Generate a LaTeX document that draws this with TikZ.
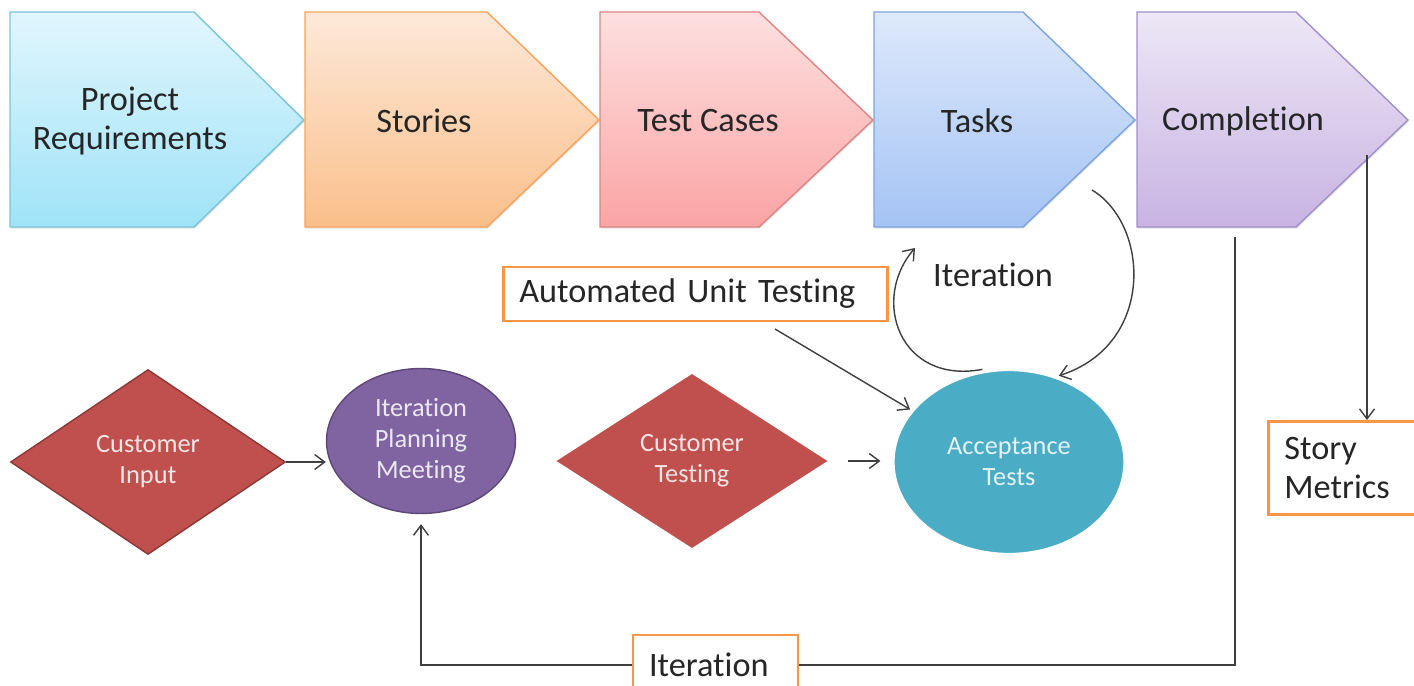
\documentclass[tikz,border=0pt]{standalone}
\usepackage{fontspec}
\setmainfont{Carlito}[Ligatures=NoCommon]
\usetikzlibrary{shapes.geometric, arrows.meta, shadows, backgrounds}
\definecolor{reqtop}{HTML}{E1F6FD}
\definecolor{reqbot}{HTML}{9FE3F8}
\definecolor{reqline}{HTML}{7AC4D8}
\definecolor{stotop}{HTML}{FDE9D9}
\definecolor{stobot}{HTML}{FABF8A}
\definecolor{stoline}{HTML}{F5A35C}
\definecolor{castop}{HTML}{FDE0E0}
\definecolor{casbot}{HTML}{FBA4A4}
\definecolor{casline}{HTML}{DC8585}
\definecolor{tsktop}{HTML}{DEE9FB}
\definecolor{tskbot}{HTML}{A4C3F4}
\definecolor{tskline}{HTML}{7CA4DC}
\definecolor{dontop}{HTML}{EDE7F6}
\definecolor{donbot}{HTML}{C8B3E3}
\definecolor{donline}{HTML}{A08FC8}
\definecolor{kitered}{HTML}{C0504D}
\definecolor{kiteline}{HTML}{8C3836}
\definecolor{meetpurple}{HTML}{8064A2}
\definecolor{meetline}{HTML}{5C4776}
\definecolor{accblue}{HTML}{4BACC6}
\definecolor{boxorange}{HTML}{F79646}
\definecolor{flowgray}{HTML}{3F3F3F}

\tikzset{
  stage/.style={line width=0.8pt, drop shadow={opacity=0.2, shadow xshift=0.6pt, shadow yshift=-0.9pt}},
  stagetext/.style={font=\fontsize{19.5}{22}\selectfont, align=center, text=black!85},
  labelbox/.style={draw=boxorange, line width=1.6pt, fill=white, font=\fontsize{19.5}{22}\selectfont,
    align=left, inner xsep=0.32cm, text=black!85},
  kite/.style={diamond, fill=kitered, minimum width=5.5cm, minimum height=3.7cm, aspect=1.5,
    inner sep=0pt, font=\fontsize{15}{17.6}\selectfont, align=center, text=white!85!kitered},
  flow/.style={draw=flowgray, line width=0.8pt, -{Straight Barb[length=0.2cm, width=0.3cm]}},
}

\begin{document}
\begin{tikzpicture}[x=0.02cm, y=-0.02cm]
	\useasboundingbox (0,0) rectangle (1414,686);

	\shade[stage, top color=reqtop, bottom color=reqbot, draw=reqline]
		(10,12) -- (194,12) -- (304,120) -- (194,227) -- (10,227) -- cycle;
	\node[stagetext] (req) at (130,121) {Project\\Requirements};

	\shade[stage, top color=stotop, bottom color=stobot, draw=stoline]
		(305,12) -- (487,12) -- (599,120) -- (487,227) -- (305,227) -- cycle;
	\node[stagetext] (stories) at (424,121) {Stories};

	\shade[stage, top color=castop, bottom color=casbot, draw=casline]
		(600,12) -- (759,12) -- (873,120) -- (759,227) -- (600,227) -- cycle;
	\node[stagetext] (cases) at (708,121) {Test Cases};

	\shade[stage, top color=tsktop, bottom color=tskbot, draw=tskline]
		(874,12) -- (1023,12) -- (1135,120) -- (1023,227) -- (874,227) -- cycle;
	\node[stagetext] (tasks) at (977,121) {Tasks};

	\shade[stage, top color=dontop, bottom color=donbot, draw=donline]
		(1137,12) -- (1296,12) -- (1408,120) -- (1296,227) -- (1137,227) -- cycle;
	\node[stagetext] (done) at (1243,121) {Completion};

	\node[kite, draw=kiteline, line width=0.8pt] (cin) at (148,462) {Customer\\Input};
	\node[ellipse, fill=meetpurple, draw=meetline, line width=0.8pt, minimum width=3.78cm,
		minimum height=2.9cm, inner sep=0pt, font=\fontsize{15}{17.6}\selectfont, align=center,
		text=white!85!meetpurple] (ipm) at (421,441) {Iteration\\Planning\\Meeting};
	\node[kite, minimum width=5.62cm, minimum height=3.62cm, draw=white, line width=2.4pt,
		drop shadow={opacity=0.25, shadow xshift=0.6pt, shadow yshift=-0.6pt}] (ctest) at (692,461) {Customer\\Testing};
	\node[ellipse, fill=accblue, draw=white, line width=2.4pt, minimum width=4.66cm, minimum height=3.72cm,
		inner sep=0pt, font=\fontsize{15}{17.6}\selectfont, align=center, text=white!85!accblue,
		drop shadow={opacity=0.25, shadow xshift=0.6pt, shadow yshift=-0.6pt}] (acc) at (1009,462) {Acceptance\\Tests};

	\node[labelbox, anchor=west, text width=7.04cm, minimum height=1.08cm] (unit) at (502,294) {Automated Unit Testing};
	\node[stagetext] (iterlbl) at (993,275) {Iteration};
	\node[labelbox, anchor=north west, text width=2.8cm, minimum height=1.86cm] (metrics) at (1267,420) {Story\\Metrics};
	\node[labelbox, text width=2.66cm, minimum height=1.2cm] (iterbox) at (715.5,665) {Iteration};

	\coordinate (unitout) at (775,329);
	\coordinate (tasksin) at (915,248);
	\coordinate (tasksout) at (1092,190);
	\coordinate (metricsout) at (1367,155);
	\coordinate (loopout) at (1235,237);

	\draw[flow] (cin.east) -- (cin.east -| ipm.west);
	\draw[flow, shorten <=0.26cm, shorten >=0.2cm] (ctest.east) -- (ctest.east -| acc.west);
	\draw[flow] (unitout) -- (acc.152);
	\draw[flow] (acc.106) .. controls (900,385) and (870,300) .. (tasksin);
	\draw[flow] (tasksout) .. controls (1150,225) and (1155,345) .. (acc.60);
	\draw[flow] (metricsout) -- (metricsout |- metrics.north);
	\begin{scope}[on background layer]
		\draw[flow, shorten >=0.2cm] (loopout) |- (iterbox) -| (ipm.south);
	\end{scope}
\end{tikzpicture}
\end{document}
